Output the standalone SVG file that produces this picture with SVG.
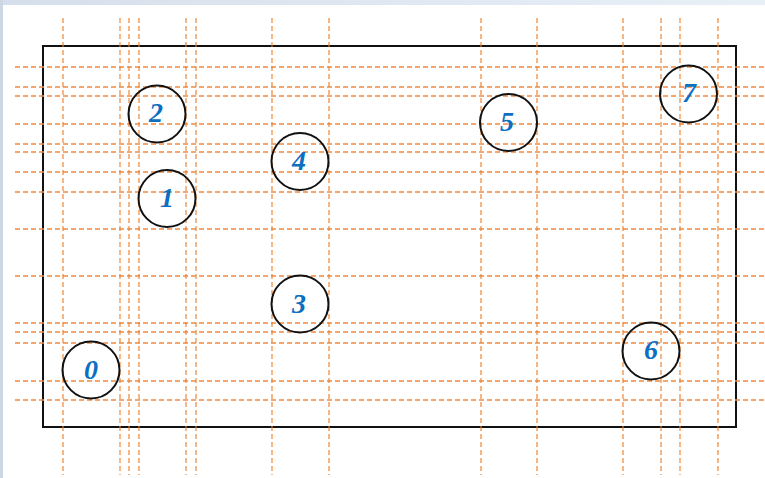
<svg xmlns="http://www.w3.org/2000/svg" width="765" height="478" viewBox="0 0 765 478">
<defs>
<linearGradient id="topband" x1="0" y1="0" x2="1" y2="0">
<stop offset="0" stop-color="#d5dfeb"/>
<stop offset="1" stop-color="#e9eff7"/>
</linearGradient>
</defs>
<style>
.h{stroke:#f08a40;stroke-width:1.3;stroke-dasharray:5 3;fill:none}
.v{stroke:#ee7b22;stroke-width:1.1;stroke-dasharray:5 3;fill:none}
.node circle{fill:none;stroke:#111;stroke-width:2}
.node text{font-family:"Liberation Serif","Times New Roman",serif;font-style:italic;font-weight:bold;font-size:28px;fill:#0c6fc2;text-anchor:middle}
</style>
<rect x="0" y="0" width="765" height="478" fill="#ffffff"/>
<rect x="0" y="0" width="765" height="5" fill="url(#topband)"/>
<rect x="0" y="0" width="3" height="478" fill="#cdd7e3"/>
<rect id="frame" x="43" y="46" width="693" height="381" fill="none" stroke="#111" stroke-width="2"/>
<g id="guides">
<line class="h" x1="15" y1="67" x2="765" y2="67"/>
<line class="h" x1="15" y1="87" x2="765" y2="87"/>
<line class="h" x1="15" y1="96" x2="765" y2="96"/>
<line class="h" x1="15" y1="124" x2="765" y2="124"/>
<line class="h" x1="15" y1="144" x2="765" y2="144"/>
<line class="h" x1="15" y1="152" x2="765" y2="152"/>
<line class="h" x1="15" y1="172" x2="765" y2="172"/>
<line class="h" x1="15" y1="192" x2="765" y2="192"/>
<line class="h" x1="15" y1="229" x2="765" y2="229"/>
<line class="h" x1="15" y1="276" x2="765" y2="276"/>
<line class="h" x1="15" y1="323" x2="765" y2="323"/>
<line class="h" x1="15" y1="332" x2="765" y2="332"/>
<line class="h" x1="15" y1="343" x2="765" y2="343"/>
<line class="h" x1="15" y1="381" x2="765" y2="381"/>
<line class="h" x1="15" y1="400" x2="765" y2="400"/>
<line class="v" x1="63" y1="18" x2="63" y2="475"/>
<line class="v" x1="120" y1="18" x2="120" y2="475"/>
<line class="v" x1="129" y1="18" x2="129" y2="475"/>
<line class="v" x1="139" y1="18" x2="139" y2="475"/>
<line class="v" x1="186" y1="18" x2="186" y2="475"/>
<line class="v" x1="196" y1="18" x2="196" y2="475"/>
<line class="v" x1="272" y1="18" x2="272" y2="475"/>
<line class="v" x1="329" y1="18" x2="329" y2="475"/>
<line class="v" x1="481" y1="18" x2="481" y2="475"/>
<line class="v" x1="537" y1="18" x2="537" y2="475"/>
<line class="v" x1="623" y1="18" x2="623" y2="475"/>
<line class="v" x1="661" y1="18" x2="661" y2="475"/>
<line class="v" x1="680" y1="18" x2="680" y2="475"/>
<line class="v" x1="718" y1="18" x2="718" y2="475"/>
</g>
<g id="node0" class="node"><circle cx="91" cy="370" r="28.5"/><text x="91" y="379">0</text></g>
<g id="node1" class="node"><circle cx="167" cy="198.5" r="28.5"/><text x="167" y="207">1</text></g>
<g id="node2" class="node"><circle cx="157" cy="114" r="28.5"/><text x="156" y="122">2</text></g>
<g id="node3" class="node"><circle cx="300" cy="304" r="28.5"/><text x="299" y="313">3</text></g>
<g id="node4" class="node"><circle cx="300" cy="161.5" r="28.5"/><text x="299" y="170">4</text></g>
<g id="node5" class="node"><circle cx="508.5" cy="122.5" r="28.5"/><text x="507" y="131">5</text></g>
<g id="node6" class="node"><circle cx="651" cy="351" r="28.5"/><text x="651" y="359">6</text></g>
<g id="node7" class="node"><circle cx="688.5" cy="94" r="28.5"/><text x="689" y="102">7</text></g>
</svg>
